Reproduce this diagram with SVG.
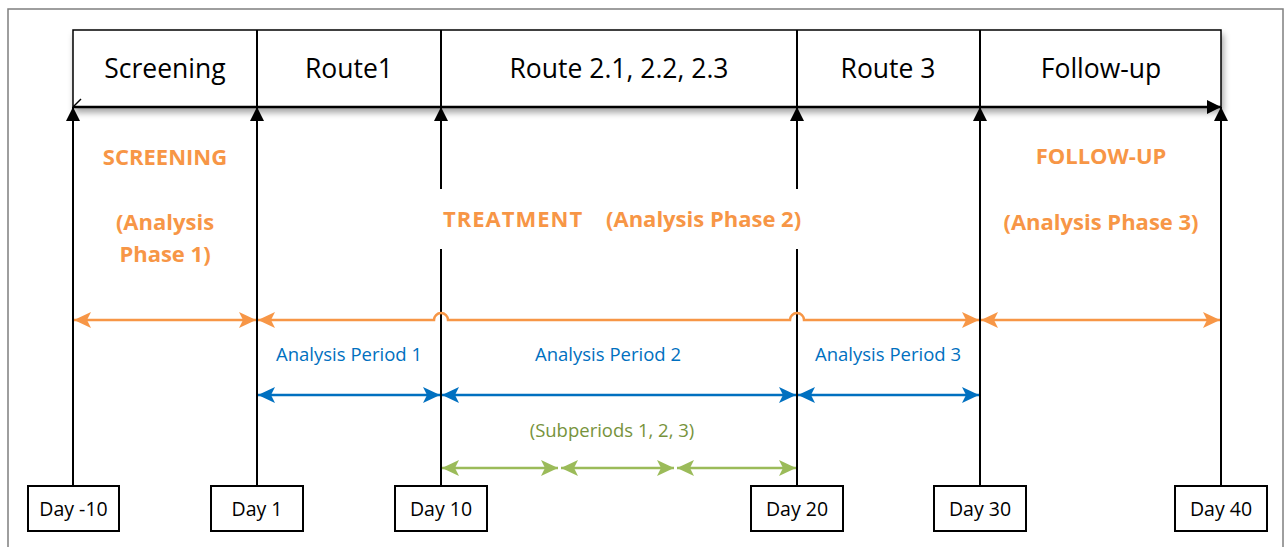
<svg xmlns="http://www.w3.org/2000/svg" width="1287" height="547" viewBox="0 0 1287 547">
<defs>
<style>
.frame{fill:none;stroke:#7f7f7f;stroke-width:1.5}
.hdr{font-family:"Open Sans","Liberation Sans",sans-serif;font-size:26.5px;fill:#000;text-anchor:middle}
.or{font-family:"Open Sans","Liberation Sans",sans-serif;font-size:22px;font-weight:bold;fill:#F79646}
.bl{font-family:"Open Sans","Liberation Sans",sans-serif;font-size:18.5px;fill:#0070C0;text-anchor:middle}
.gr{font-family:"Open Sans","Liberation Sans",sans-serif;font-size:18.5px;fill:#77933C;text-anchor:middle}
.day{font-family:"Open Sans","Liberation Sans",sans-serif;font-size:19.5px;fill:#000;text-anchor:middle}
.vl{stroke:#000;stroke-width:2;fill:none}
.dbox{fill:#fff;stroke:#000;stroke-width:2}
.oa{stroke:#F79646;stroke-width:2.5;fill:none}
.ba{stroke:#0070C0;stroke-width:2.5;fill:none}
.ga{stroke:#9BBB59;stroke-width:2.5;fill:none}
</style>
<marker id="mk" viewBox="-14 -7 14 14" markerWidth="14" markerHeight="14" refX="0" refY="0" orient="auto-start-reverse" markerUnits="userSpaceOnUse"><path d="M0,0 L-14,-7 L-14,7 Z" fill="#000"/></marker>
<marker id="mo" viewBox="-17 -8 17 16" markerWidth="17" markerHeight="16" refX="0" refY="0" orient="auto-start-reverse" markerUnits="userSpaceOnUse"><path d="M0,0 L-17,-8 L-13,0 L-17,8 Z" fill="#F79646"/></marker>
<marker id="mb" viewBox="-17 -8 17 16" markerWidth="17" markerHeight="16" refX="0" refY="0" orient="auto-start-reverse" markerUnits="userSpaceOnUse"><path d="M0,0 L-17,-8 L-13,0 L-17,8 Z" fill="#0070C0"/></marker>
<marker id="mg" viewBox="-17 -8 17 16" markerWidth="17" markerHeight="16" refX="0" refY="0" orient="auto-start-reverse" markerUnits="userSpaceOnUse"><path d="M0,0 L-17,-8 L-13,0 L-17,8 Z" fill="#9BBB59"/></marker>
<filter id="sh" x="-5%" y="-20%" width="110%" height="160%"><feDropShadow dx="2" dy="5" stdDeviation="3" flood-color="#000" flood-opacity="0.35"/></filter>
</defs>
<rect width="1287" height="547" fill="#fff"/>
<rect class="frame" x="8" y="9" width="1275" height="560"/>

<g id="header">
<rect x="73" y="30" width="1148" height="77" fill="#fff" stroke="#000" stroke-width="1.5" filter="url(#sh)"/>
<line x1="257" y1="30" x2="257" y2="107" class="vl"/>
<line x1="441" y1="30" x2="441" y2="107" class="vl"/>
<line x1="797" y1="30" x2="797" y2="107" class="vl"/>
<line x1="980" y1="30" x2="980" y2="107" class="vl"/>
<text class="hdr" x="165" y="78">Screening</text>
<text class="hdr" x="349" y="78">Route1</text>
<text class="hdr" x="619" y="78">Route 2.1, 2.2, 2.3</text>
<text class="hdr" x="888" y="78">Route 3</text>
<text class="hdr" x="1101" y="78">Follow-up</text>
</g>

<g id="labels">
<text class="or" x="165" y="165" text-anchor="middle">SCREENING</text>
<text class="or" x="165" y="230" text-anchor="middle">(Analysis</text>
<text class="or" x="165" y="262" text-anchor="middle">Phase 1)</text>
<text class="or" x="443" y="227" letter-spacing="1">TREATMENT</text>
<text class="or" x="606" y="227">(Analysis Phase 2)</text>
<text class="or" x="1101" y="164" text-anchor="middle">FOLLOW-UP</text>
<text class="or" x="1101" y="230" text-anchor="middle">(Analysis Phase 3)</text>
<text class="bl" x="349" y="361">Analysis Period 1</text>
<text class="bl" x="608" y="361">Analysis Period 2</text>
<text class="bl" x="888" y="361">Analysis Period 3</text>
<text class="gr" x="612" y="437">(Subperiods 1, 2, 3)</text>
</g>

<g id="connectors">
<line x1="73" y1="107" x2="1221" y2="107" stroke="#000" stroke-width="2.5" marker-end="url(#mk)"/>
<line x1="73" y1="107" x2="81" y2="99" stroke="#000" stroke-width="1.5"/>
<line x1="73" y1="487" x2="73" y2="107" class="vl" marker-end="url(#mk)"/>
<line x1="257" y1="487" x2="257" y2="107" class="vl" marker-end="url(#mk)"/>
<path d="M441,487 V249 M441,189 V107" class="vl"/>
<line x1="441" y1="121" x2="441" y2="107" class="vl" marker-end="url(#mk)"/>
<path d="M797,487 V249 M797,189 V107" class="vl"/>
<line x1="797" y1="121" x2="797" y2="107" class="vl" marker-end="url(#mk)"/>
<line x1="980" y1="487" x2="980" y2="107" class="vl" marker-end="url(#mk)"/>
<line x1="1221" y1="487" x2="1221" y2="107" class="vl" marker-end="url(#mk)"/>

<line x1="74" y1="320" x2="256" y2="320" class="oa" marker-start="url(#mo)" marker-end="url(#mo)"/>
<path d="M258,320 H434 A7,7 0 0 1 448,320 H790 A7,7 0 0 1 804,320 H979" class="oa" marker-start="url(#mo)" marker-end="url(#mo)"/>
<line x1="981" y1="320" x2="1220" y2="320" class="oa" marker-start="url(#mo)" marker-end="url(#mo)"/>

<line x1="258" y1="395" x2="440" y2="395" class="ba" marker-start="url(#mb)" marker-end="url(#mb)"/>
<line x1="442" y1="395" x2="796" y2="395" class="ba" marker-start="url(#mb)" marker-end="url(#mb)"/>
<line x1="798" y1="395" x2="979" y2="395" class="ba" marker-start="url(#mb)" marker-end="url(#mb)"/>

<line x1="442" y1="468" x2="558" y2="468" class="ga" marker-start="url(#mg)" marker-end="url(#mg)"/>
<line x1="561" y1="468" x2="674" y2="468" class="ga" marker-start="url(#mg)" marker-end="url(#mg)"/>
<line x1="677" y1="468" x2="796" y2="468" class="ga" marker-start="url(#mg)" marker-end="url(#mg)"/>
</g>

<g id="day-10"><rect class="dbox" x="28" y="486" width="91" height="45"/><text class="day" x="73.5" y="516">Day -10</text></g>
<g id="day1"><rect class="dbox" x="211" y="486" width="92" height="45"/><text class="day" x="257" y="516">Day 1</text></g>
<g id="day10"><rect class="dbox" x="395" y="486" width="92" height="45"/><text class="day" x="441" y="516">Day 10</text></g>
<g id="day20"><rect class="dbox" x="751" y="486" width="92" height="45"/><text class="day" x="797" y="516">Day 20</text></g>
<g id="day30"><rect class="dbox" x="934" y="486" width="92" height="45"/><text class="day" x="980" y="516">Day 30</text></g>
<g id="day40"><rect class="dbox" x="1175" y="486" width="92" height="45"/><text class="day" x="1221" y="516">Day 40</text></g>
</svg>
